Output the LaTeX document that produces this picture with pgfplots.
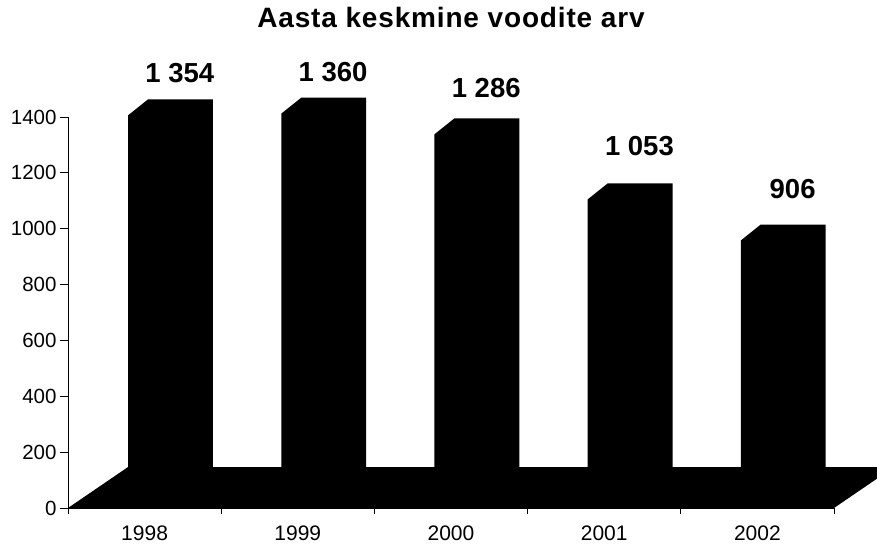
\documentclass[border=0pt]{standalone}
\usepackage{fontspec}
\setmainfont{Liberation Sans}
\newfontfamily\titlefont[LetterSpace=3]{Liberation Sans}
\usepackage{pgfplots}
\usepackage{pgfplotstable}
\pgfplotsset{compat=1.18}

% silhouette of one 3-D bar: x = category + dx, y = a*value + b
\pgfplotstableread{
dx a b
-0.108 0 30
-0.108 1 52
0.022 1 109
0.446 1 109
0.446 0 30
}\barshape

% x = category index, v = value, ly = height of the value label
\pgfplotstableread{
x v ly
0 1354 1559
1 1360 1561
2 1286 1504
3 1053 1296
4 906 1142
}\data

\begin{document}
\begin{tikzpicture}
\begin{axis}[
  at={(0,0)}, anchor=south west,
  scale only axis, width=766pt, height=391pt,
  xmin=-0.5, xmax=4.5, ymin=0, ymax=1400,
  clip=false,
  axis x line*=bottom, axis y line*=left,
  axis line style={-, line width=0.9pt, black},
  ytick={0,200,...,1400},
  xtick={0,...,4}, xticklabels={1998,1999,2000,2001,2002},
  minor xtick={-0.5,0.5,...,4.5},
  major x tick style={draw=none},
  tick align=outside,
  major tick length=8pt, minor tick length=6pt,
  tick style={line width=0.9pt, black},
  /pgf/number format/assume math mode=true,
  /pgf/number format/1000 sep={},
  y tick label style={font=\fontsize{20.5}{22}\selectfont, xshift=0pt},
  x tick label style={font=\fontsize{21}{22}\selectfont, yshift=-6pt},
  title={\titlefont Aasta keskmine voodite arv},
  title style={font=\bfseries\fontsize{28}{30}\selectfont, at={(axis description cs:0.5,1)}, anchor=base, yshift=83pt},
]
% floor
\addplot[fill=black, draw=none, forget plot] coordinates {(-0.5,0) (-0.108,146.8) (4.892,146.8) (4.5,0)};
% bars
\pgfplotsinvokeforeach{0,...,4}{
  \pgfplotstablegetelem{#1}{v}\of\data
  \let\barv\pgfplotsretval
  \addplot[fill=black, draw=none, forget plot] table[x expr=#1+\thisrow{dx}, y expr=\thisrow{a}*\barv+\thisrow{b}] {\barshape};
}
% value labels
\addplot[draw=none, mark=none, forget plot,
  nodes near coords={\pgfmathprintnumber[1000 sep={\ }]{\pgfplotspointmeta}},
  point meta=explicit,
  every node near coord/.append style={anchor=center, font=\bfseries\fontsize{27.5}{30}\selectfont, /pgf/number format/assume math mode=true}]
  table[x expr=\thisrow{x}+0.23, y=ly, meta=v] {\data};
\end{axis}
\pgfresetboundingbox
\path[use as bounding box] (-68pt,-38pt) rectangle (809pt,508pt);
\end{tikzpicture}
\end{document}
